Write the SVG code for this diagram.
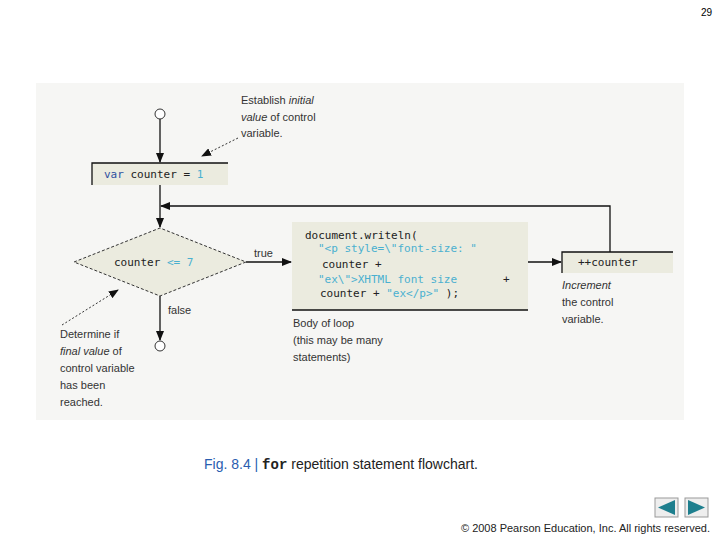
<svg xmlns="http://www.w3.org/2000/svg" width="720" height="540" viewBox="0 0 720 540">
<style>
.t{font-family:"Liberation Sans",Arial,sans-serif;font-size:11px;fill:#333}
.m{font-family:"DejaVu Sans Mono","Liberation Mono",monospace;font-size:11px;fill:#222}
.c{fill:#4ab0d0}
.k{fill:#3050a0}
.ln{stroke:#111;stroke-width:1.3;fill:none}
.box{fill:#ebebdf}
</style>
<defs><marker id="a" markerWidth="10" markerHeight="8" refX="9" refY="4" orient="auto" markerUnits="userSpaceOnUse"><path d="M0,0L10,4L0,8z" fill="#111"/></marker></defs>
<rect width="720" height="540" fill="#fff"/>
<text x="712" y="16" text-anchor="end" style="font-family:'Liberation Sans',sans-serif;font-size:10px">29</text>
<rect x="36" y="83" width="648" height="337" fill="#f6f6f4"/>
<g id="connectors">
<line class="ln" x1="160" y1="119" x2="160" y2="162" marker-end="url(#a)"/>
<line class="ln" x1="160" y1="185" x2="160" y2="227" marker-end="url(#a)"/>
<polyline class="ln" points="610,252 610,206 161,206" marker-end="url(#a)"/>
<line class="ln" x1="246" y1="262" x2="291" y2="262" marker-end="url(#a)"/>
<line class="ln" x1="528" y1="262" x2="561" y2="262" marker-end="url(#a)"/>
<line class="ln" x1="160" y1="296" x2="160" y2="340" marker-end="url(#a)"/>
<line x1="238" y1="138" x2="202" y2="156" stroke="#333" stroke-dasharray="2,2" marker-end="url(#a)"/>
<line x1="62" y1="325" x2="118" y2="290" stroke="#333" stroke-dasharray="2,2" marker-end="url(#a)"/>
</g>
<g id="start"><circle cx="160" cy="114" r="5" fill="#fff" stroke="#333"/></g>
<g id="end"><circle cx="160" cy="346" r="5" fill="#fff" stroke="#333"/></g>
<g id="init"><rect class="box" x="92" y="163" width="136" height="22"/><path class="ln" d="M92,185V163H228"/>
<text class="m" x="104" y="178"><tspan class="k">var</tspan> counter = <tspan class="c">1</tspan></text></g>
<g id="cond"><path d="M74,262L160,228L246,262L160,296z" class="box" stroke="#333" stroke-dasharray="3,2"/>
<text class="m" x="114" y="266">counter <tspan class="c">&lt;= 7</tspan></text></g>
<g id="body"><rect class="box" x="292" y="222" width="236" height="88"/><line class="ln" x1="292" y1="310" x2="528" y2="310"/>
<text class="m" x="305" y="239">document.writeln(</text>
<text class="m c" x="318" y="252">"&lt;p style=\"font-size: "</text>
<text class="m" x="322" y="268">counter +</text>
<text class="m c" x="318" y="283">"ex\"&gt;XHTML font size </text><text class="m" x="503" y="283">+</text>
<text class="m" x="320" y="297">counter + <tspan class="c">"ex&lt;/p&gt;"</tspan> );</text></g>
<g id="incr"><rect class="box" x="562" y="252" width="111" height="21"/><path class="ln" d="M562,273V252H673"/>
<text class="m" x="578" y="266">++counter</text></g>
<g id="labels">
<text class="t" x="254" y="257">true</text>
<text class="t" x="168" y="314">false</text>
<text class="t" x="241" y="104">Establish <tspan font-style="italic">initial</tspan></text>
<text class="t" x="241" y="121"><tspan font-style="italic">value</tspan> of control</text>
<text class="t" x="241" y="137">variable.</text>
<text class="t" x="60" y="338">Determine if</text>
<text class="t" x="60" y="355"><tspan font-style="italic">final value</tspan> of</text>
<text class="t" x="60" y="372">control variable</text>
<text class="t" x="60" y="389">has been</text>
<text class="t" x="60" y="406">reached.</text>
<text class="t" x="293" y="327">Body of loop</text>
<text class="t" x="293" y="344">(this may be many</text>
<text class="t" x="293" y="361">statements)</text>
<text class="t" x="562" y="289" font-style="italic">Increment</text>
<text class="t" x="562" y="306">the control</text>
<text class="t" x="562" y="323">variable.</text>
</g>
<text x="204" y="469" style="font-family:'Liberation Sans',sans-serif;font-size:14px;fill:#222"><tspan fill="#2a5db0">Fig. 8.4 | </tspan><tspan font-family="Liberation Mono,monospace" font-weight="bold">for</tspan> repetition statement flowchart.</text>
<g id="nav"><rect x="655" y="498" width="23" height="19" fill="#eee" stroke="#999"/><path d="M658,507.5L675,500V515z" fill="#1e7f8e"/>
<rect x="685" y="498" width="23" height="19" fill="#eee" stroke="#999"/><path d="M705,507.5L688,500V515z" fill="#1e7f8e"/></g>
<text x="710" y="532" text-anchor="end" style="font-family:'Liberation Sans',sans-serif;font-size:11px;fill:#222">© 2008 Pearson Education, Inc.  All rights reserved.</text>
</svg>
